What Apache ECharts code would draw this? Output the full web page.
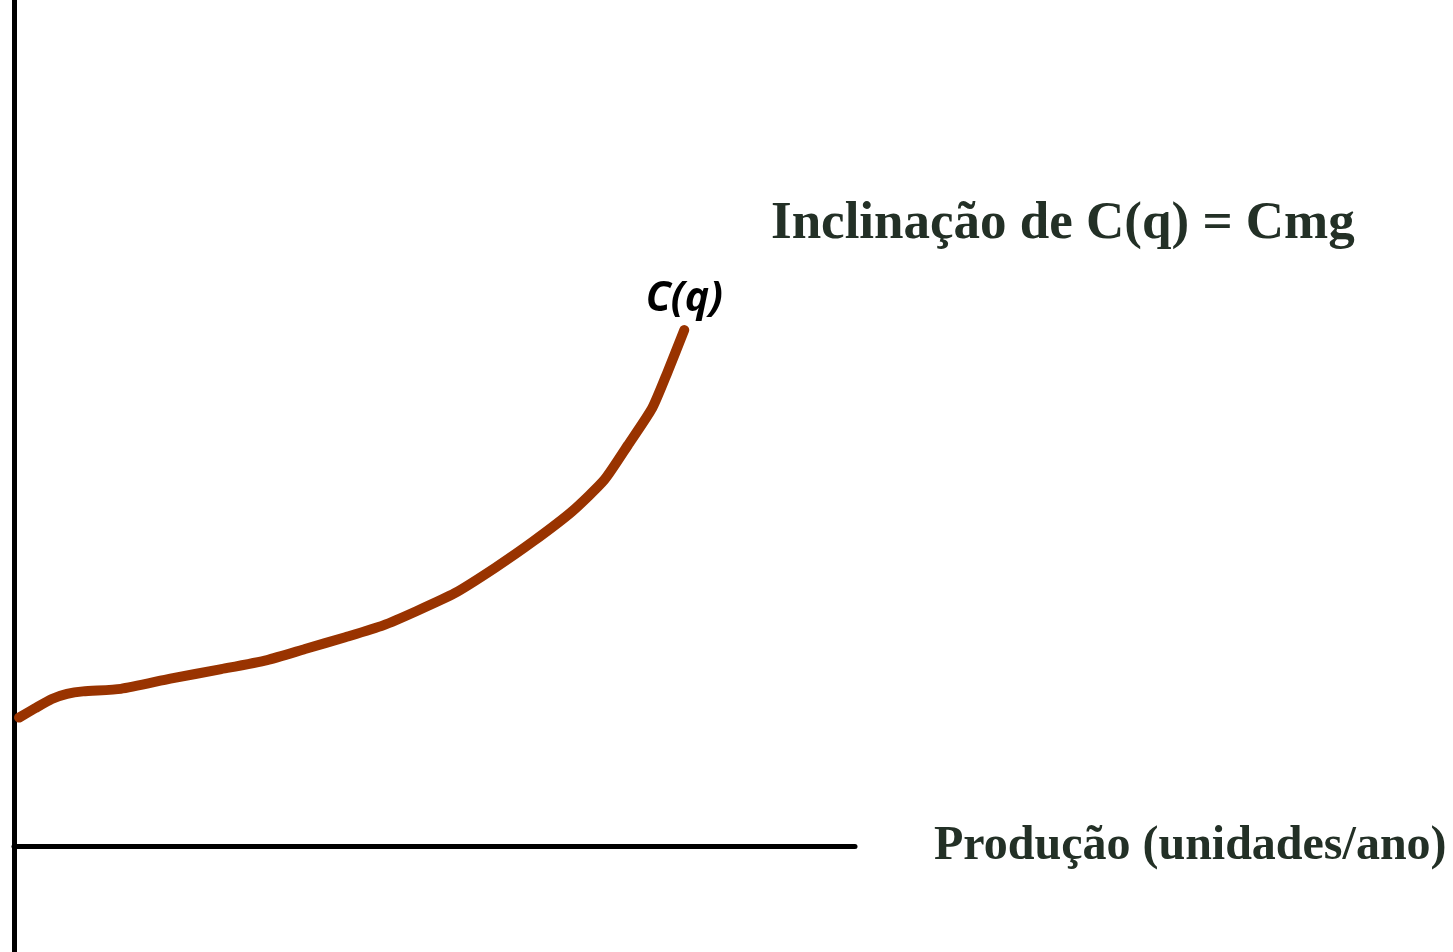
<!DOCTYPE html>
<html>
<head>
<meta charset="utf-8">
<script src="https://cdn.jsdelivr.net/npm/echarts@6/dist/echarts.min.js"></script>
<style>
	html, body { margin: 0; padding: 0; background: #fff; }
	#chart { width: 1453px; height: 952px; }
</style>
</head>
<body>
<div id="chart"></div>
<script>
// quantidade produzida (eixo x) e custo total C(q) (eixo y)
var quantidade = [0.6, 2.5, 4.5, 6.3, 8.2, 12.7, 18.6, 24.5, 30.1, 34.6, 39.4, 43.9, 47.9, 52.4, 57.2, 61.7, 66.4, 70.2, 73.0, 75.9, 77.7, 79.7];
var custo = [15.2, 16.3, 17.4, 18.0, 18.3, 18.6, 19.8, 20.9, 22.0, 23.3, 24.7, 26.1, 27.8, 29.9, 32.9, 36.0, 39.6, 43.3, 47.4, 51.8, 56.0, 61.0];
var nomeCurva = "C(q)";
var nomeEixoX = "Produção (unidades/ano)";
var texto = "Inclinação de C(q) = Cmg";

var corTexto = "#233026";
var corCurva = "#993300";

var myChart = echarts.init(document.getElementById("chart"));

// monta os pontos da curva
var pontos = [];
for (var i = 0; i < quantidade.length; i++) {
	pontos.push([quantidade[i], custo[i]]);
}
var ultimo = pontos[pontos.length - 1];

var option = {
	animation: false,
	title: {
		text: texto,
		left: 771,
		top: 198,
		padding: 0,
		textStyle: {
			fontFamily: "Liberation Serif",
			fontWeight: "bold",
			fontSize: 53,
			color: corTexto
		}
	},
	grid: { left: 14, right: 598, top: 0, bottom: 0, containLabel: false },
	xAxis: {
		type: "value",
		min: 0,
		max: 100,
		name: nomeEixoX,
		nameLocation: "end",
		nameGap: 79,
		nameTextStyle: {
			fontFamily: "Liberation Serif",
			fontWeight: "bold",
			fontSize: 48,
			color: corTexto,
			verticalAlign: "middle",
			padding: [0, 0, 16, 0]
		},
		axisLine: { onZero: true, lineStyle: { color: "#000", width: 5 } },
		axisTick: { show: false },
		axisLabel: { show: false },
		splitLine: { show: false }
	},
	yAxis: {
		type: "value",
		min: -12.5,
		max: 100,
		axisLine: { show: true, onZero: false, lineStyle: { color: "#000", width: 5 } },
		axisTick: { show: false },
		axisLabel: { show: false },
		splitLine: { show: false }
	},
	series: [{
		name: nomeCurva,
		type: "line",
		data: pontos,
		symbol: "none",
		smooth: 0.2,
		lineStyle: { color: corCurva, width: 10, cap: "round", join: "round" },
		z: 3
	}, {
		// rótulo C(q) no fim da curva
		type: "scatter",
		data: [ultimo],
		symbolSize: 0,
		silent: true,
		itemStyle: { opacity: 1 },
		label: {
			show: true,
			position: "top",
			distance: 10,
			formatter: nomeCurva,
			color: "#000",
			opacity: 1,
			textBorderWidth: 0,
			fontFamily: "Open Sans",
			fontWeight: "bold",
			fontStyle: "italic",
			fontSize: 41
		},
		z: 4
	}]
};
myChart.setOption(option);
</script>
</body>
</html>
